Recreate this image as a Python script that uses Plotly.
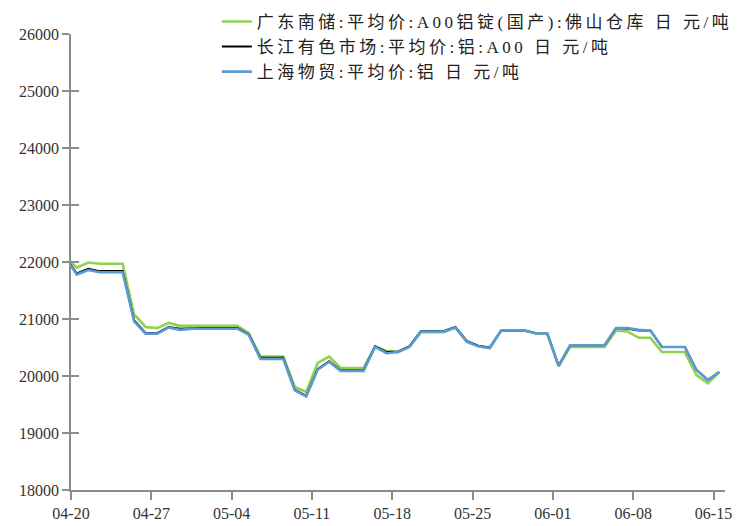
import pandas as pd
import plotly.graph_objects as go

# daily observations 2020-04-19 .. 2020-06-15
dates = pd.date_range("2020-04-19", "2020-06-15", freq="D")

tick_labels = ["04-20", "04-27", "05-04", "05-11", "05-18", "05-25", "06-01", "06-08", "06-15"]
tick_dates = pd.date_range("2020-04-20", "2020-06-15", freq="7D")

y_ticks = [18000, 19000, 20000, 21000, 22000, 23000, 24000, 25000, 26000]

names = [
    "广东南储:平均价:A00铝锭(国产):佛山仓库 日 元/吨",
    "长江有色市场:平均价:铝:A00 日 元/吨",
    "上海物贸:平均价:铝 日 元/吨",
]

guangdong = [22100,
             21900, 21990, 21970, 21970, 21970, 21080, 20860,
             20840, 20930, 20880, 20880, 20880, 20880, 20880,
             20880, 20750, 20340, 20340, 20340, 19810, 19720,
             20230, 20340, 20140, 20140, 20140, 20520, 20440,
             20420, 20520, 20770, 20770, 20770, 20850, 20610,
             20520, 20490, 20800, 20800, 20800, 20750, 20750,
             20170, 20510, 20510, 20510, 20510, 20800, 20780,
             20670, 20670, 20420, 20420, 20420, 20020, 19870,
             20070]

changjiang = [22090,
              21800, 21880, 21840, 21840, 21840, 20980, 20750,
              20750, 20860, 20830, 20840, 20840, 20840, 20840,
              20840, 20730, 20320, 20320, 20320, 19760, 19650,
              20120, 20260, 20100, 20100, 20100, 20520, 20420,
              20430, 20520, 20790, 20790, 20790, 20860, 20610,
              20530, 20500, 20800, 20800, 20800, 20750, 20750,
              20180, 20540, 20540, 20540, 20540, 20840, 20830,
              20800, 20800, 20510, 20510, 20510, 20110, 19930,
              20070]

shanghai = [22080,
            21780, 21860, 21820, 21820, 21820, 20960, 20740,
            20740, 20850, 20810, 20830, 20830, 20830, 20830,
            20830, 20720, 20300, 20300, 20300, 19750, 19640,
            20110, 20250, 20090, 20090, 20090, 20510, 20400,
            20420, 20510, 20780, 20780, 20780, 20850, 20600,
            20520, 20490, 20800, 20800, 20800, 20750, 20750,
            20180, 20540, 20540, 20540, 20540, 20840, 20840,
            20810, 20800, 20510, 20510, 20510, 20110, 19930,
            20070]

colors = ["#92D050", "#000000", "#5B9BD5"]
widths = [2.6, 2.0, 2.6]

# each daily value is plotted at the middle of its day
x_pos = dates + pd.Timedelta(hours=12)

fig = go.Figure()
for name, vals, c, w in zip(names, [guangdong, changjiang, shanghai], colors, widths):
    fig.add_trace(go.Scatter(x=x_pos, y=vals, mode="lines",
                             name='<span style="letter-spacing:3.5px">' + name + '</span>',
                             line=dict(color=c, width=w)))

# helper trace for the inner half of the crossing y ticks
fig.add_trace(go.Scatter(x=[x_pos[1]], y=[shanghai[1]], yaxis="y2", mode="lines",
                         showlegend=False, hoverinfo="skip", line=dict(width=0)))

font_main = "Liberation Serif, Times New Roman, Noto Sans CJK SC, serif"

# the page body adds an 8px offset, margins compensate for it
fig.update_layout(
    width=742, height=526,
    margin=dict(l=63, r=25, t=26, b=44, autoexpand=False),
    paper_bgcolor="white", plot_bgcolor="white",
    font=dict(family=font_main, size=16, color="#333333"),
    showlegend=True,
    legend=dict(x=0.223, y=1.066, xanchor="left", yanchor="top",
                bgcolor="rgba(0,0,0,0)",
                font=dict(family="Liberation Serif, Noto Sans CJK SC", size=17, color="#222222"),
                tracegroupgap=0),
    xaxis=dict(type="date", range=["2020-04-20", "2020-06-16"],
               tickvals=tick_dates, ticktext=tick_labels,
               showgrid=False, zeroline=False,
               showline=True, linecolor="#8c8c8c", linewidth=1.5,
               ticks="outside", ticklen=8, tickwidth=1.5, tickcolor="#8c8c8c",
               tickfont=dict(size=16, color="#333333")),
    yaxis=dict(range=[18000, 26000], tickvals=y_ticks, tickformat="d",
               showgrid=False, zeroline=False,
               showline=True, linecolor="#8c8c8c", linewidth=1.5,
               ticks="outside", ticklen=7, tickwidth=1.5, tickcolor="#8c8c8c",
               tickfont=dict(size=16, color="#333333")),
    yaxis2=dict(range=[18000, 26000], tickvals=y_ticks, overlaying="y", side="left",
                showgrid=False, zeroline=False, showline=False,
                ticks="inside", ticklen=8, tickwidth=1.5, tickcolor="#8c8c8c",
                showticklabels=False),
)

fig.write_html("out.html")
